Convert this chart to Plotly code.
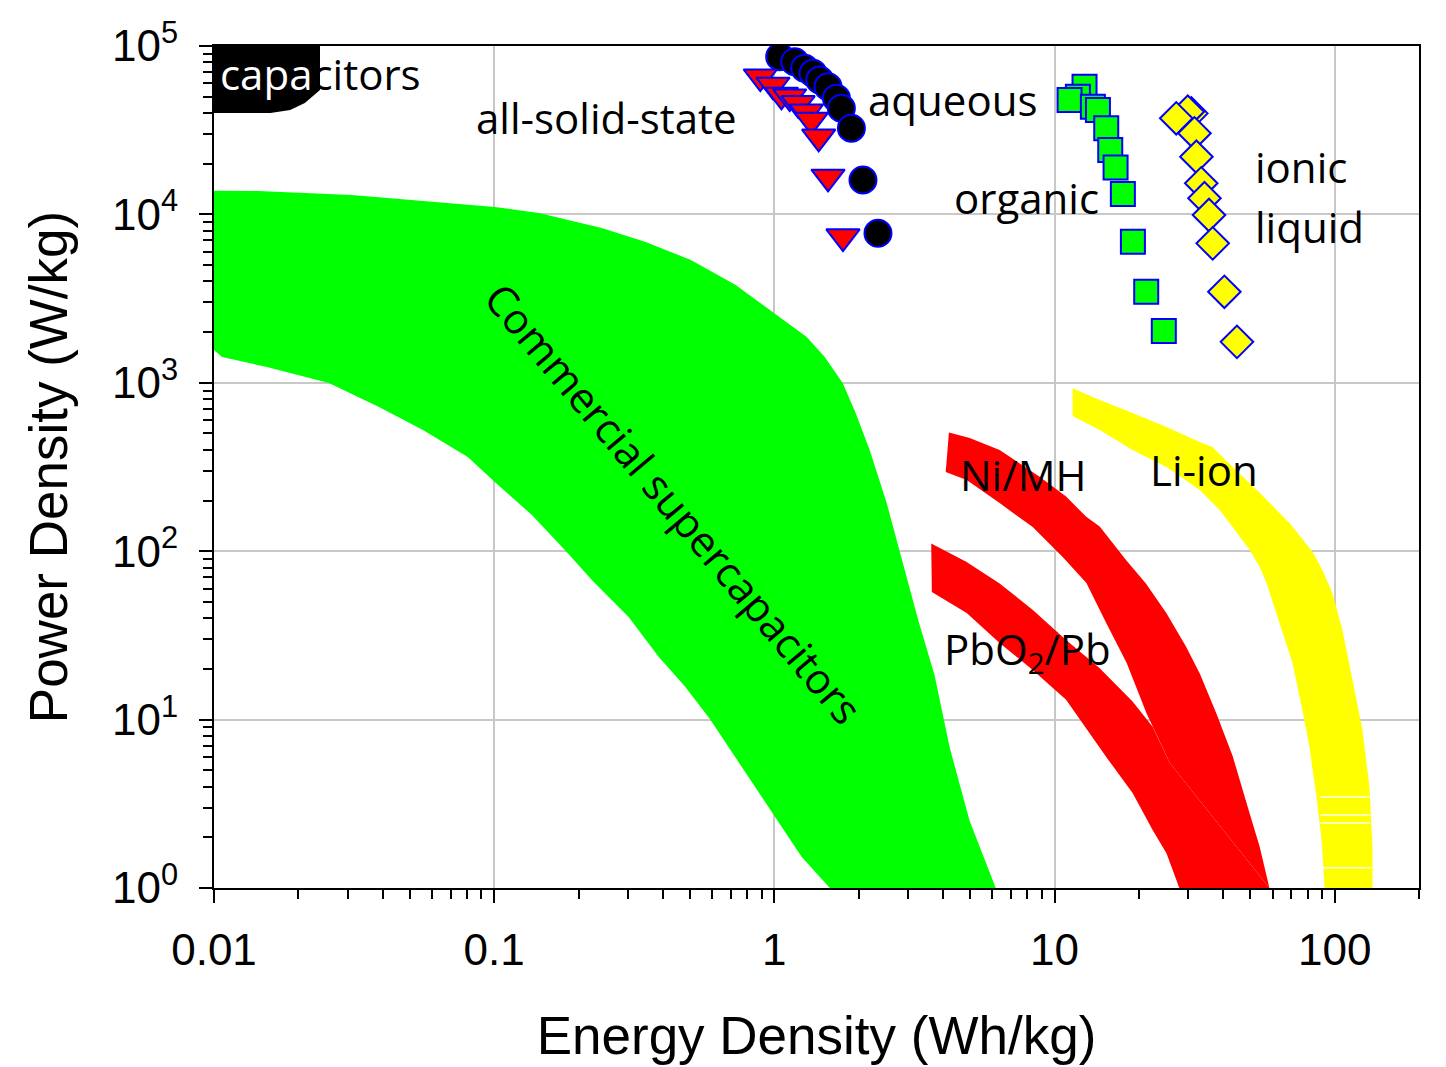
import plotly.graph_objects as go

# ---------------- axes ----------------
x_tick_vals = [0.01, 0.1, 1, 10, 100]
x_tick_text = ["0.01", "0.1", "1", "10", "100"]
y_tick_vals = [1, 10, 100, 1000, 10000, 100000]
y_tick_text = ["10<sup>0</sup>", "10<sup>1</sup>", "10<sup>2</sup>",
               "10<sup>3</sup>", "10<sup>4</sup>", "10<sup>5</sup>"]
x_minor_vals = [0.02, 0.03, 0.04, 0.05, 0.06, 0.07, 0.08, 0.09,
                0.2, 0.3, 0.4, 0.5, 0.6, 0.7, 0.8, 0.9,
                2, 3, 4, 5, 6, 7, 8, 9,
                20, 30, 40, 50, 60, 70, 80, 90, 200]
y_minor_vals = [2, 3, 4, 5, 6, 7, 8, 9,
                20, 30, 40, 50, 60, 70, 80, 90,
                200, 300, 400, 500, 600, 700, 800, 900,
                2000, 3000, 4000, 5000, 6000, 7000, 8000, 9000,
                20000, 30000, 40000, 50000, 60000, 70000, 80000, 90000]

# ---------------- regions (energy Wh/kg, power W/kg) ----------------
capacitors_energy = [0.01, 0.0239, 0.0239, 0.0211, 0.0187, 0.0159, 0.01]
capacitors_power = [100000, 100000, 54800, 45900, 41700, 40000, 40000]

supercap_energy = [0.01, 0.01436, 0.0310, 0.0517, 0.1006, 0.1444, 0.242, 0.3475,
                   0.5035, 0.728, 1.045, 1.305, 1.513, 1.754, 1.951, 2.189, 2.518,
                   2.78, 3.27, 3.73, 4.23, 4.98, 6.17,
                   1.578, 1.253, 0.970, 0.759, 0.588, 0.479, 0.387, 0.302, 0.2249,
                   0.1815, 0.1364, 0.1014, 0.0805, 0.0557, 0.0388, 0.0257, 0.01545,
                   0.01068, 0.01]
supercap_power = [13800, 13770, 13030, 12180, 11070, 10190, 8300, 6860,
                  5360, 3810, 2460, 1870, 1423, 998, 662, 399, 193,
                  104.5, 38.5, 18.4, 6.78, 2.50, 1.0,
                  1.0, 1.53, 2.90, 5.30, 10.1, 15.8, 23.5, 40.7, 66.5,
                  98.9, 164, 254, 362, 525, 718, 998, 1241,
                  1423, 1566]

nimh_energy = [4.20, 4.98, 6.37, 8.85, 11.0, 12.98, 14.5, 18.0, 21.2, 25.1, 29.5,
               33.0, 37.8, 43.3, 49.7, 54.0, 58.5,
               25.8, 21.3, 18.1, 15.3, 13.0, 10.7, 8.36, 6.37, 4.86, 4.09]
nimh_power = [506, 470, 399, 277, 211, 160, 140, 88.7, 64.4, 42.8, 27.1,
              18.8, 10.9, 6.03, 2.78, 1.76, 1.0,
              5.52, 10.9, 21.7, 37.5, 64.7, 92.4, 139, 193, 265, 295]

pbo2_energy = [3.63, 4.84, 6.37, 8.37, 11.0, 14.5, 19.0, 22.4, 25.8, 58.5,
               27.9, 25.1, 22.4, 19.0, 15.3, 12.6, 11.0, 8.36, 6.37, 4.86, 3.65]
pbo2_power = [111, 86.7, 64.4, 44.8, 29.7, 20.2, 12.8, 9.08, 5.52, 1.0,
              1.0, 1.61, 2.21, 3.66, 6.00, 9.55, 13.1, 19.7, 28.5, 43.0, 57.3]

liion_energy = [11.6, 14.5, 19.0, 25.1, 33.0, 36.6, 43.2, 54.0, 69.0, 83.4, 90.4,
                98.2, 106.6, 115.8, 125.7, 133.1, 136.5, 136.5,
                92.0, 89.8, 86.1, 81.3, 76.7, 70.7, 63.5, 57.1, 54.0, 49.7, 43.2,
                38.8, 33.0, 25.1, 19.0, 14.5, 11.6]
liion_power = [927, 791, 662, 547, 445, 416, 316, 222, 147, 98.9, 77.3,
               56.5, 34.0, 17.2, 8.67, 3.98, 1.75, 1.0,
               1.0, 1.93, 3.47, 6.87, 11.4, 21.7, 37.5, 64.7, 80.5, 102, 139,
               176, 231, 316, 399, 525, 635]

# thin white streaks inside the Li-ion band
streak_energy = [89, 133, None, 89, 134, None, 89, 134, None, 90, 135]
streak_power = [3.47, 3.47, None, 2.71, 2.71, None, 2.43, 2.43, None, 1.32, 1.32]

# ---------------- electrolytes (points) ----------------
aqueous_energy = [1.045, 1.183, 1.283, 1.374, 1.452, 1.555, 1.666, 1.735, 1.884, 2.072, 2.344]
aqueous_power = [86400, 80700, 73700, 68800, 62800, 57300, 48900, 42700, 32500, 16000, 7720]

solid_energy = [0.891, 0.989, 1.060, 1.135, 1.216, 1.303, 1.357, 1.440, 1.555, 1.758]
solid_power = [65700, 58700, 51200, 50000, 45700, 40700, 36400, 28900, 16700, 7380]

organic_energy = [12.80, 12.12, 11.32, 13.71, 14.29, 15.30, 15.81, 16.52, 17.54, 19.05, 21.25, 24.56]
organic_power = [57300, 50000, 47800, 43600, 41700, 32500, 24100, 19000, 13200, 6880, 3470, 2030]

ionic_energy = [30.8, 29.9, 27.2, 31.6, 32.1, 33.4, 34.3, 35.6, 36.7, 40.4, 44.8]
ionic_power = [39800, 40700, 37200, 30300, 22000, 15300, 12470, 9920, 6730, 3470, 1750]

fig = go.Figure()


def region(xs, ys, color, name):
    fig.add_trace(go.Scatter(x=xs, y=ys, mode="lines", fill="toself",
                             fillcolor=color, line=dict(width=0, color=color),
                             name=name, hoverinfo="name"))


region(capacitors_energy, capacitors_power, "black", "capacitors")
region(supercap_energy, supercap_power, "#00ff00", "Commercial supercapacitors")
region(nimh_energy, nimh_power, "#ff0000", "Ni/MH")
region(pbo2_energy, pbo2_power, "#ff0000", "PbO2/Pb")
region(liion_energy, liion_power, "#ffff00", "Li-ion")
fig.add_trace(go.Scatter(x=streak_energy, y=streak_power, mode="lines",
                         line=dict(color="rgba(255,255,255,0.9)", width=1.5),
                         hoverinfo="skip", connectgaps=False))

outline = dict(color="#0000ff", width=2)
fig.add_trace(go.Scatter(x=solid_energy, y=solid_power, mode="markers", name="all-solid-state",
                         marker=dict(symbol="triangle-down", size=29, color="#ff0000", line=outline)))
fig.add_trace(go.Scatter(x=aqueous_energy, y=aqueous_power, mode="markers", name="aqueous",
                         marker=dict(symbol="circle", size=27, color="black", line=outline)))
fig.add_trace(go.Scatter(x=organic_energy, y=organic_power, mode="markers", name="organic",
                         marker=dict(symbol="square", size=24, color="#00ff00", line=outline)))
fig.add_trace(go.Scatter(x=ionic_energy, y=ionic_power, mode="markers", name="ionic liquid",
                         marker=dict(symbol="diamond", size=25, color="#ffff00", line=outline)))

lab_font = dict(family="Open Sans, Noto Sans, sans-serif", size=42, color="black")


def label(text, lx, ly, anchor="left", angle=0):
    fig.add_annotation(x=lx, y=ly, xref="x", yref="y", text=text, showarrow=False,
                       xanchor=anchor, yanchor="middle", textangle=angle, font=lab_font)


label("<span style='color:white'>capa</span>citors", -1.986, 4.834)
label("all-solid-state", -1.072, 4.578)
label("aqueous", 0.326, 4.685)
label("organic", 0.633, 4.103)
label("ionic", 1.707, 4.287)
label("liquid", 1.707, 3.931)
label("Ni/MH", 0.654, 2.458)
label("Li-ion", 1.332, 2.488)
label("PbO<sub>2</sub>/Pb", 0.597, 1.407)
label("Commercial supercapacitors", -0.355, 2.286, anchor="center", angle=50)

axis_font = dict(family="Liberation Sans, Arial, sans-serif", size=44, color="black")
title_font = dict(family="Liberation Sans, Arial, sans-serif", size=53, color="black")
common = dict(type="log", showline=True, linecolor="black", linewidth=2, mirror=True,
              ticks="outside", ticklen=13, tickwidth=2, tickcolor="black",
              showgrid=True, gridcolor="#c8c8c8", gridwidth=2, zeroline=False,
              tickfont=axis_font, tickmode="array", automargin=False)

fig.update_layout(
    width=1438, height=1059,
    margin=dict(l=206, r=27, t=38, b=179, pad=0),
    paper_bgcolor="white", plot_bgcolor="white",
    showlegend=False,
    xaxis=dict(common, range=[-2, 2.30103], tickvals=x_tick_vals, ticktext=x_tick_text,
               ticklabelstandoff=9,
               minor=dict(tickmode="array", tickvals=x_minor_vals, ticks="outside",
                          ticklen=9, tickwidth=1.5, tickcolor="black", showgrid=False),
               title=dict(text="Energy Density (Wh/kg)", font=title_font, standoff=44)),
    yaxis=dict(common, range=[0, 5], tickvals=y_tick_vals, ticktext=y_tick_text,
               ticklabelstandoff=12,
               minor=dict(tickmode="array", tickvals=y_minor_vals, ticks="outside",
                          ticklen=9, tickwidth=1.5, tickcolor="black", showgrid=False),
               title=dict(text="Power Density (W/kg)", font=title_font, standoff=28)),
)

fig.write_html("out.html")
